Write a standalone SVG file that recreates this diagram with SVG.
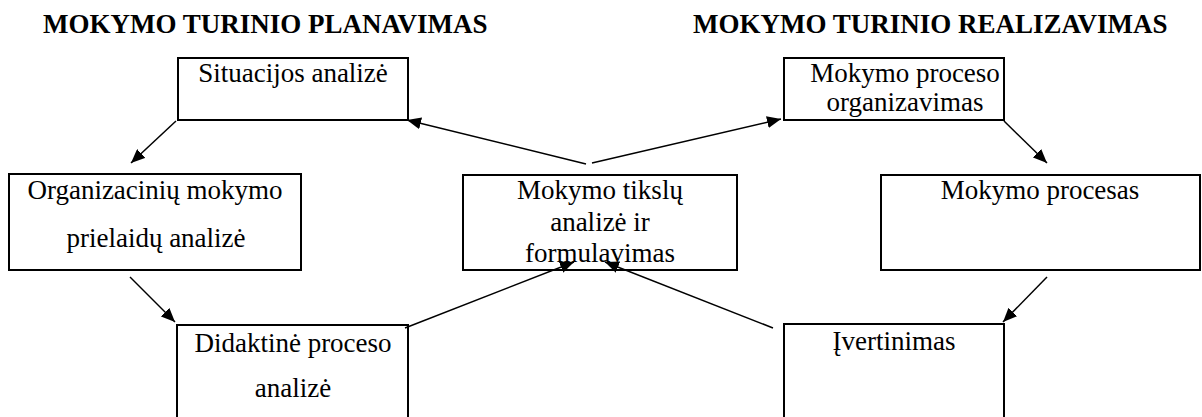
<svg xmlns="http://www.w3.org/2000/svg" width="1202" height="417" viewBox="0 0 1202 417">
  <defs>
    <style>
      .title { font-family: "Liberation Serif", "Times New Roman", serif; font-weight: bold; font-size: 27px; fill: #000; }
      .lbl { font-family: "Liberation Serif", "Times New Roman", serif; font-size: 27px; fill: #000; text-anchor: middle; }
      .box { fill: none; stroke: #000; stroke-width: 2; }
      .conn { fill: none; stroke: #000; stroke-width: 1.5; marker-end: url(#arrow); }
    </style>
    <marker id="arrow" viewBox="0 0 14 12" refX="14" refY="6" markerWidth="14" markerHeight="12" markerUnits="userSpaceOnUse" orient="auto">
      <path d="M0,0 L14,6 L0,12 Z" fill="#000"/>
    </marker>
  </defs>
  <rect width="1202" height="417" fill="#fff"/>

  <g id="titles">
    <text class="title" x="43" y="33">MOKYMO TURINIO PLANAVIMAS</text>
    <text class="title" x="693" y="33">MOKYMO TURINIO REALIZAVIMAS</text>
  </g>

  <g id="node-situacijos">
    <rect class="box" x="178" y="58" width="230" height="62"/>
    <text class="lbl" x="293" y="82">Situacijos analizė</text>
  </g>

  <g id="node-organizavimas">
    <rect class="box" x="784" y="58" width="220" height="62"/>
    <text class="lbl" x="905" y="82">Mokymo proceso</text>
    <text class="lbl" x="905" y="111">organizavimas</text>
  </g>

  <g id="node-prielaidos">
    <rect class="box" x="9" y="174" width="292" height="96"/>
    <text class="lbl" x="155" y="199">Organizacinių mokymo</text>
    <text class="lbl" x="156" y="247">prielaidų analizė</text>
  </g>

  <g id="node-tikslai">
    <rect class="box" x="463" y="175" width="274" height="95"/>
    <text class="lbl" x="600" y="199">Mokymo tikslų</text>
    <text class="lbl" x="600" y="231">analizė ir</text>
    <text class="lbl" x="600" y="262">formulavimas</text>
  </g>

  <g id="node-procesas">
    <rect class="box" x="881" y="175" width="319" height="95"/>
    <text class="lbl" x="1040" y="199">Mokymo procesas</text>
  </g>

  <g id="node-didaktine">
    <rect class="box" x="177" y="325" width="231" height="120"/>
    <text class="lbl" x="293" y="352">Didaktinė proceso</text>
    <text class="lbl" x="293" y="397">analizė</text>
  </g>

  <g id="node-ivertinimas">
    <rect class="box" x="784" y="324" width="220" height="120"/>
    <text class="lbl" x="894" y="350">Įvertinimas</text>
  </g>

  <g id="connectors">
    <line class="conn" x1="586" y1="164" x2="407" y2="120"/>
    <line class="conn" x1="592" y1="163" x2="781" y2="119"/>
    <line class="conn" x1="176" y1="121" x2="131" y2="163"/>
    <line class="conn" x1="1004" y1="121" x2="1047" y2="163"/>
    <line class="conn" x1="130" y1="277" x2="175" y2="322"/>
    <line class="conn" x1="1047" y1="277" x2="1003" y2="322"/>
    <line class="conn" x1="405" y1="328" x2="574" y2="262"/>
    <line class="conn" x1="773" y1="328" x2="605" y2="262"/>
  </g>
</svg>
